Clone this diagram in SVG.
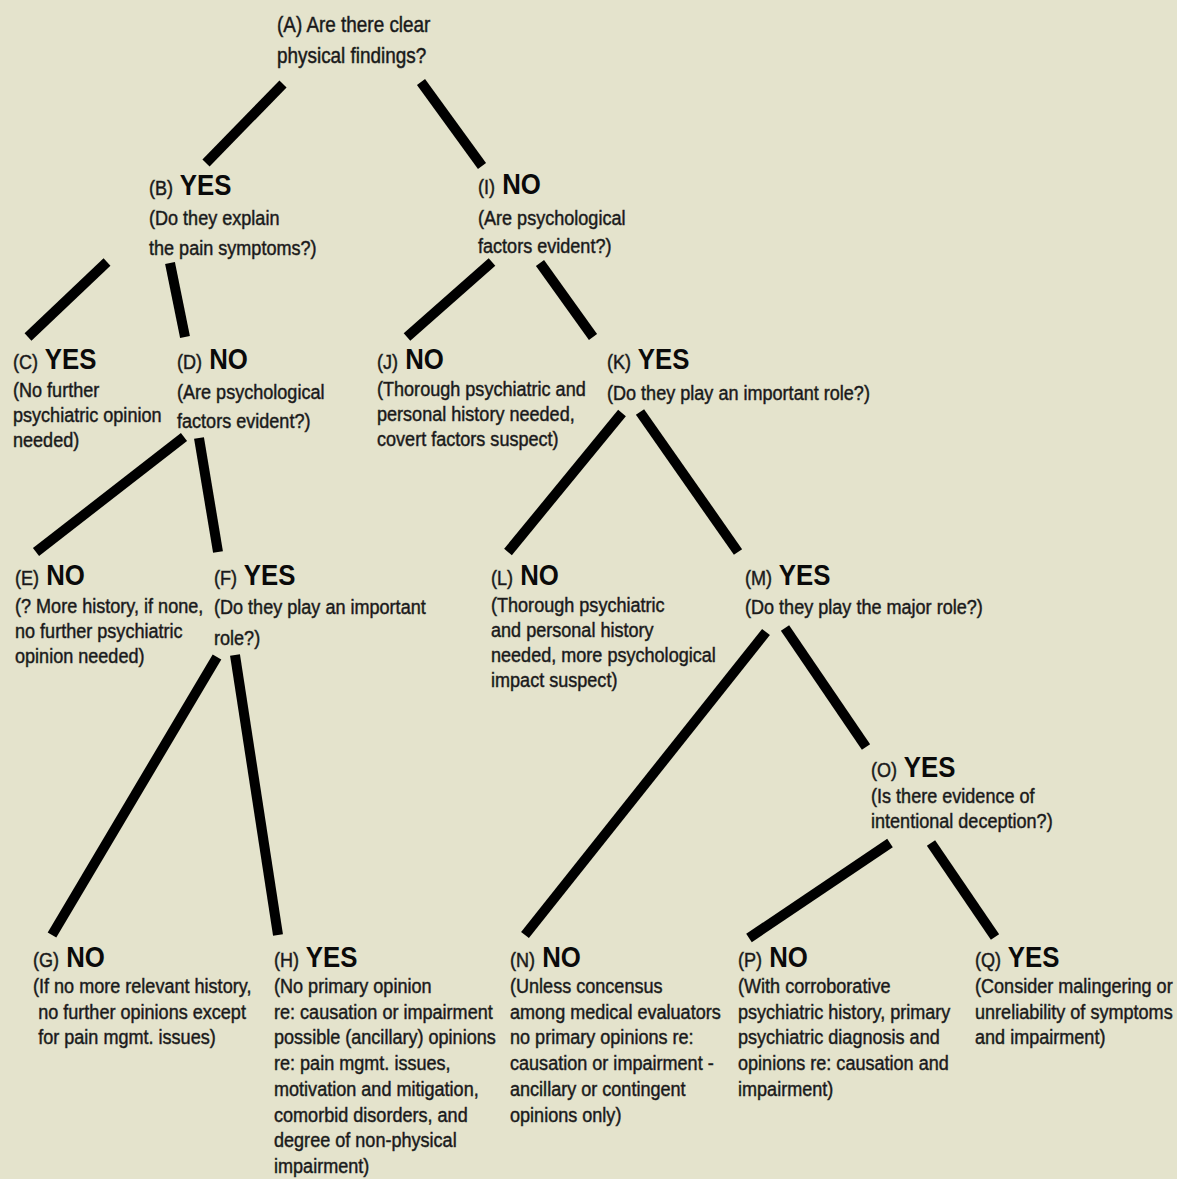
<svg xmlns="http://www.w3.org/2000/svg" width="1177" height="1179" viewBox="0 0 1177 1179">
<style>
.t{font-family:"Liberation Sans",Arial,sans-serif;font-size:21px;fill:#151515;stroke:#2a2a2a;stroke-width:0.5}
.a{font-size:22px}
.b{font-weight:bold;font-size:30px;fill:#0a0a0a;stroke:none}
.c line{stroke:#000;stroke-width:10;stroke-linecap:butt}
</style>
<rect width="1177" height="1179" fill="#e4e3cc"/>
<g id="connectors" class="c">
<line x1="283" y1="84" x2="206" y2="163"/>
<line x1="421" y1="82" x2="482" y2="166"/>
<line x1="107" y1="262" x2="28" y2="337"/>
<line x1="170" y1="263" x2="185" y2="337"/>
<line x1="492" y1="262" x2="407" y2="337"/>
<line x1="540" y1="263" x2="593" y2="337"/>
<line x1="184" y1="437" x2="36" y2="552"/>
<line x1="199" y1="438" x2="218" y2="552"/>
<line x1="622" y1="413" x2="508" y2="552"/>
<line x1="640" y1="412" x2="738" y2="552"/>
<line x1="217" y1="657" x2="52" y2="935"/>
<line x1="235" y1="655" x2="278" y2="935"/>
<line x1="766" y1="632" x2="525" y2="935"/>
<line x1="785" y1="628" x2="866" y2="747"/>
<line x1="890" y1="843" x2="749" y2="938"/>
<line x1="931" y1="843" x2="995" y2="937"/>
</g>
<g id="node-A" transform="translate(277,0) scale(0.86,1)">
<text class="t a" y="32">(A) Are there clear</text>
<text class="t a" y="63">physical findings?</text>
</g>
<g id="node-B" transform="translate(149,0) scale(0.86,1)">
<text class="t" y="195">(B)<tspan class="b"> YES</tspan></text>
<text class="t" y="225">(Do they explain</text>
<text class="t" y="255">the pain symptoms?)</text>
</g>
<g id="node-I" transform="translate(478,0) scale(0.86,1)">
<text class="t" y="194">(I)<tspan class="b"> NO</tspan></text>
<text class="t" y="225">(Are psychological</text>
<text class="t" y="253">factors evident?)</text>
</g>
<g id="node-C" transform="translate(13,0) scale(0.86,1)">
<text class="t" y="369">(C)<tspan class="b"> YES</tspan></text>
<text class="t" y="397">(No further</text>
<text class="t" y="422">psychiatric opinion</text>
<text class="t" y="447">needed)</text>
</g>
<g id="node-D" transform="translate(177,0) scale(0.86,1)">
<text class="t" y="369">(D)<tspan class="b"> NO</tspan></text>
<text class="t" y="399">(Are psychological</text>
<text class="t" y="428">factors evident?)</text>
</g>
<g id="node-J" transform="translate(377,0) scale(0.86,1)">
<text class="t" y="369">(J)<tspan class="b"> NO</tspan></text>
<text class="t" y="396">(Thorough psychiatric and</text>
<text class="t" y="421">personal history needed,</text>
<text class="t" y="446">covert factors suspect)</text>
</g>
<g id="node-K" transform="translate(607,0) scale(0.86,1)">
<text class="t" y="369">(K)<tspan class="b"> YES</tspan></text>
<text class="t" y="400">(Do they play an important role?)</text>
</g>
<g id="node-E" transform="translate(15,0) scale(0.86,1)">
<text class="t" y="585">(E)<tspan class="b"> NO</tspan></text>
<text class="t" y="613">(? More history, if none,</text>
<text class="t" y="638">no further psychiatric</text>
<text class="t" y="663">opinion needed)</text>
</g>
<g id="node-F" transform="translate(214,0) scale(0.86,1)">
<text class="t" y="585">(F)<tspan class="b"> YES</tspan></text>
<text class="t" y="614">(Do they play an important</text>
<text class="t" y="645">role?)</text>
</g>
<g id="node-L" transform="translate(491,0) scale(0.86,1)">
<text class="t" y="585">(L)<tspan class="b"> NO</tspan></text>
<text class="t" y="612">(Thorough psychiatric</text>
<text class="t" y="637">and personal history</text>
<text class="t" y="662">needed, more psychological</text>
<text class="t" y="687">impact suspect)</text>
</g>
<g id="node-M" transform="translate(745,0) scale(0.86,1)">
<text class="t" y="585">(M)<tspan class="b"> YES</tspan></text>
<text class="t" y="614">(Do they play the major role?)</text>
</g>
<g id="node-O" transform="translate(871,0) scale(0.86,1)">
<text class="t" y="777">(O)<tspan class="b"> YES</tspan></text>
<text class="t" y="803">(Is there evidence of</text>
<text class="t" y="828">intentional deception?)</text>
</g>
<g id="node-G" transform="translate(33,0) scale(0.86,1)">
<text class="t" y="967">(G)<tspan class="b"> NO</tspan></text>
<text class="t" y="993">(If no more relevant history,</text>
<text class="t" x="6" y="1019">no further opinions except</text>
<text class="t" x="6" y="1044">for pain mgmt. issues)</text>
</g>
<g id="node-H" transform="translate(274,0) scale(0.86,1)">
<text class="t" y="967">(H)<tspan class="b"> YES</tspan></text>
<text class="t" y="993">(No primary opinion</text>
<text class="t" y="1019">re: causation or impairment</text>
<text class="t" y="1044">possible (ancillary) opinions</text>
<text class="t" y="1070">re: pain mgmt. issues,</text>
<text class="t" y="1096">motivation and mitigation,</text>
<text class="t" y="1122">comorbid disorders, and</text>
<text class="t" y="1147">degree of non-physical</text>
<text class="t" y="1173">impairment)</text>
</g>
<g id="node-N" transform="translate(510,0) scale(0.86,1)">
<text class="t" y="967">(N)<tspan class="b"> NO</tspan></text>
<text class="t" y="993">(Unless concensus</text>
<text class="t" y="1019">among medical evaluators</text>
<text class="t" y="1044">no primary opinions re:</text>
<text class="t" y="1070">causation or impairment -</text>
<text class="t" y="1096">ancillary or contingent</text>
<text class="t" y="1122">opinions only)</text>
</g>
<g id="node-P" transform="translate(738,0) scale(0.86,1)">
<text class="t" y="967">(P)<tspan class="b"> NO</tspan></text>
<text class="t" y="993">(With corroborative</text>
<text class="t" y="1019">psychiatric history, primary</text>
<text class="t" y="1044">psychiatric diagnosis and</text>
<text class="t" y="1070">opinions re: causation and</text>
<text class="t" y="1096">impairment)</text>
</g>
<g id="node-Q" transform="translate(975,0) scale(0.86,1)">
<text class="t" y="967">(Q)<tspan class="b"> YES</tspan></text>
<text class="t" y="993">(Consider malingering or</text>
<text class="t" y="1019">unreliability of symptoms</text>
<text class="t" y="1044">and impairment)</text>
</g>
</svg>
